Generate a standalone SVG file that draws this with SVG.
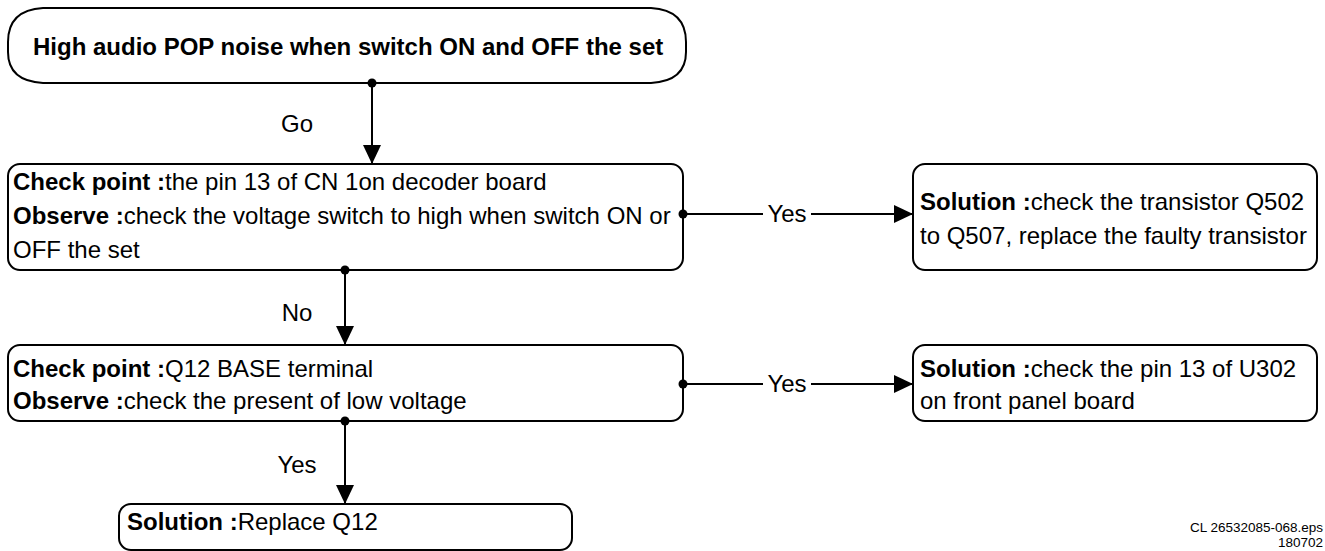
<svg xmlns="http://www.w3.org/2000/svg" width="1325" height="551" viewBox="0 0 1325 551">
<style>
text{font-family:"Liberation Sans",Arial,Helvetica,sans-serif;font-size:24px;fill:#000}
.b{font-weight:bold}
.box{fill:#fff;stroke:#000;stroke-width:2}
.ln{stroke:#000;stroke-width:2;fill:none}
.lbl{text-anchor:middle}
.foot{font-size:13.5px;text-anchor:end}
</style>
<defs>
<marker id="ah" markerWidth="18" markerHeight="18" refX="19" refY="9" orient="auto" markerUnits="userSpaceOnUse">
<path d="M0,0 L19,9 L0,18 Z" fill="#000"/>
</marker>
</defs>
<rect width="1325" height="551" fill="#fff"/>

<g id="n-start">
<path class="box" d="M43,8 H651 Q686,10 686,42 V52 Q686,81 651,83 H43 Q8,81 8,52 V42 Q8,10 43,8 Z"/>
<text class="b" x="33" y="55">High audio POP noise when switch ON and OFF the set</text>
</g>

<g id="n-check1">
<rect class="box" x="8" y="164" width="675" height="106" rx="12"/>
<text x="13" y="190"><tspan class="b">Check point :</tspan>the pin 13 of CN 1on decoder board</text>
<text x="13" y="224"><tspan class="b">Observe :</tspan>check the voltage switch to high when switch ON or</text>
<text x="13" y="258">OFF the set</text>
</g>

<g id="n-sol1">
<rect class="box" x="913" y="164" width="404" height="106" rx="12"/>
<text x="920" y="210"><tspan class="b">Solution :</tspan>check the transistor Q502</text>
<text x="920" y="244">to Q507, replace the faulty transistor</text>
</g>

<g id="n-check2">
<rect class="box" x="8" y="345" width="675" height="76" rx="12"/>
<text x="13" y="377"><tspan class="b">Check point :</tspan>Q12 BASE terminal</text>
<text x="13" y="409"><tspan class="b">Observe :</tspan>check the present of low voltage</text>
</g>

<g id="n-sol2">
<rect class="box" x="913" y="345" width="404" height="76" rx="12"/>
<text x="920" y="377"><tspan class="b">Solution :</tspan>check the pin 13 of U302</text>
<text x="920" y="409">on front panel board</text>
</g>

<g id="n-sol3">
<rect class="box" x="119" y="504" width="453" height="46" rx="12"/>
<text x="127" y="530"><tspan class="b">Solution :</tspan>Replace Q12</text>
</g>

<g id="connectors">
<circle cx="372" cy="83" r="4.5"/>
<line class="ln" x1="372" y1="83" x2="372" y2="164" marker-end="url(#ah)"/>
<text class="lbl" x="297" y="132">Go</text>

<circle cx="683" cy="214" r="4.5"/>
<line class="ln" x1="683" y1="214" x2="763" y2="214"/>
<line class="ln" x1="811" y1="214" x2="913" y2="214" marker-end="url(#ah)"/>
<text class="lbl" x="787" y="222">Yes</text>

<circle cx="345" cy="270" r="4.5"/>
<line class="ln" x1="345" y1="270" x2="345" y2="345" marker-end="url(#ah)"/>
<text class="lbl" x="297" y="321">No</text>

<circle cx="683" cy="384" r="4.5"/>
<line class="ln" x1="683" y1="384" x2="763" y2="384"/>
<line class="ln" x1="811" y1="384" x2="913" y2="384" marker-end="url(#ah)"/>
<text class="lbl" x="787" y="392">Yes</text>

<circle cx="345" cy="421" r="4.5"/>
<line class="ln" x1="345" y1="421" x2="345" y2="504" marker-end="url(#ah)"/>
<text class="lbl" x="297" y="473">Yes</text>
</g>

<text class="foot" x="1323" y="532">CL 26532085-068.eps</text>
<text class="foot" x="1323" y="547">180702</text>
</svg>
